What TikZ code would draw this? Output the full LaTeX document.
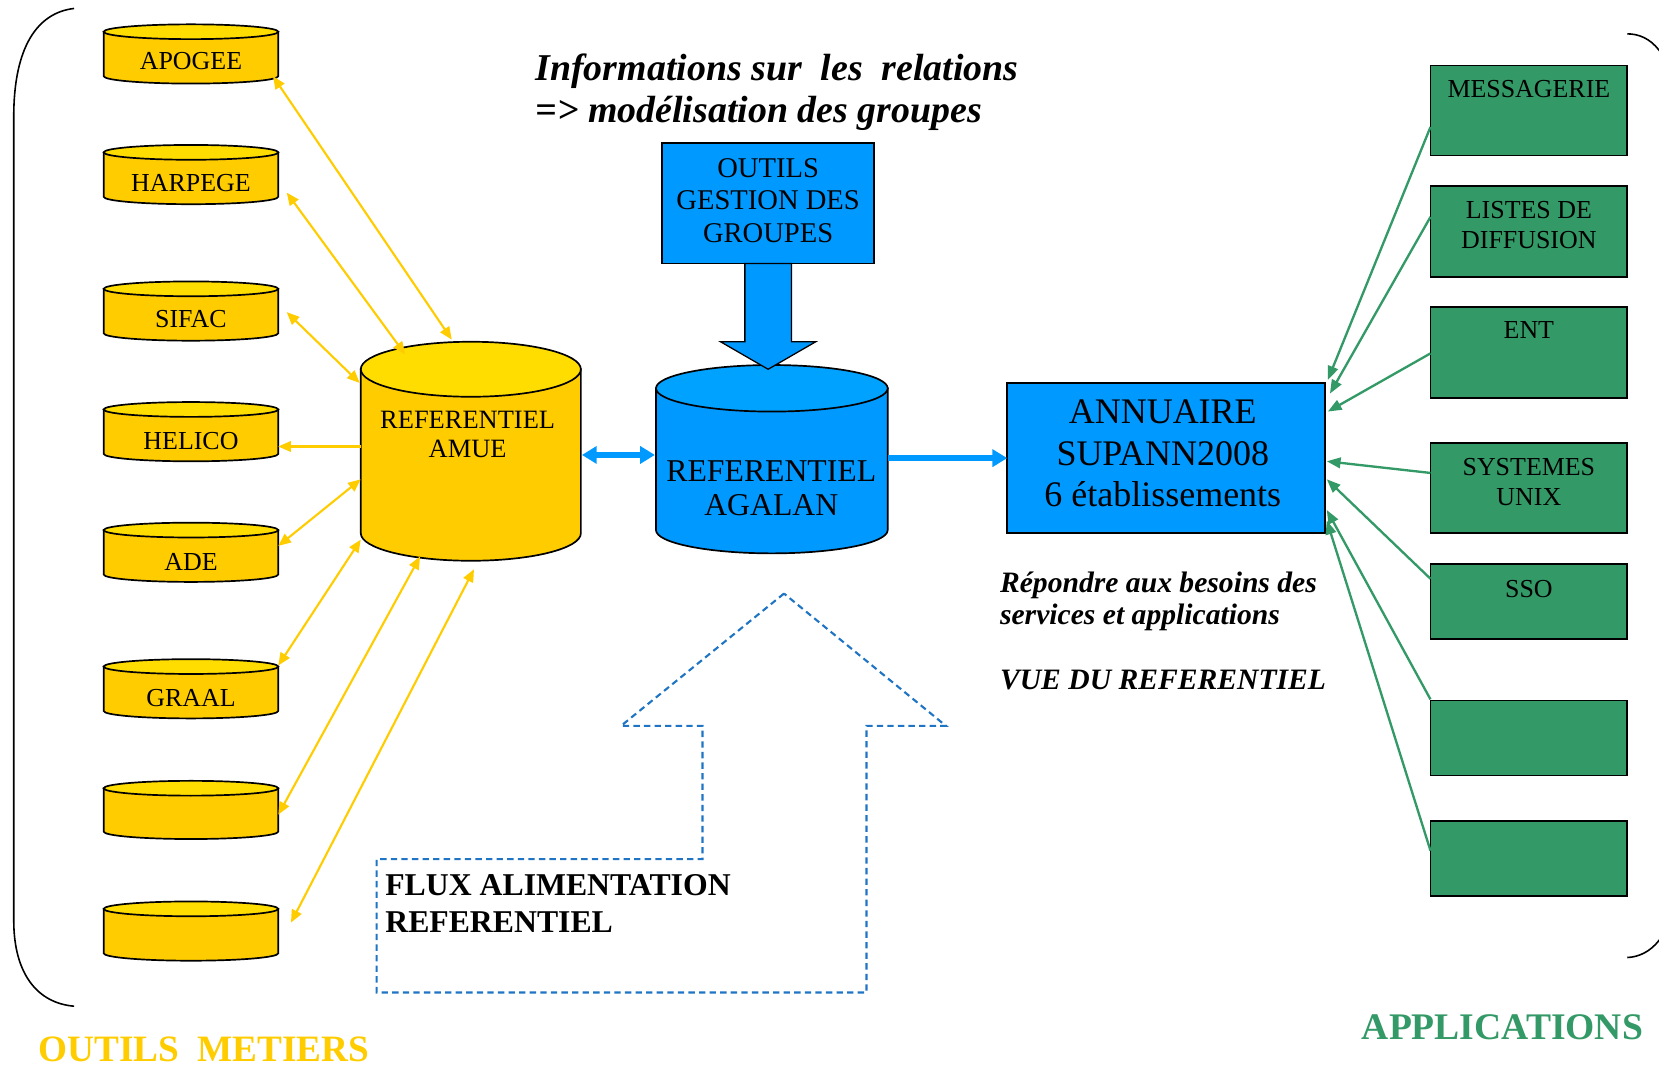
\documentclass[tikz,border=0pt]{standalone}
\usepackage{fontspec}
\setmainfont{Liberation Serif}
\usetikzlibrary{arrows.meta,calc}
\definecolor{ybody}{HTML}{FFCC00}
\definecolor{ytop}{HTML}{FFDD00}
\definecolor{bbody}{HTML}{0099FF}
\definecolor{btop}{HTML}{00A2FF}
\definecolor{cGreen}{HTML}{339966}
\definecolor{dblue}{HTML}{1F74C4}
\newcommand{\mycyl}[7]{%
  \filldraw[cylline, fill=#6] (#1-#4,#2+#5) -- (#1-#4,#3-#5) arc[start angle=180,end angle=360,x radius=#4pt,y radius=#5pt] -- (#1+#4,#2+#5) -- cycle;
  \filldraw[cylline, fill=#7] (#1,#2+#5) ellipse[x radius=#4pt,y radius=#5pt];
}
\tikzset{
  cylline/.style={line width=1.6pt, draw=black},
  ghost/.style={draw=none, inner sep=0pt, outer sep=0pt},
  lbl/.style={inner sep=0pt, font=\fontsize{24.5}{28}\selectfont, align=center},
  gboxst/.style={draw=black, line width=1.6pt, fill=cGreen, minimum width=186pt, inner sep=0pt, outer sep=0pt},
  yarr/.style={draw=ybody, line width=2pt, >={Triangle[length=12pt,width=10pt]}, <->},
  garr/.style={draw=cGreen, line width=2.2pt, >={Triangle[length=13pt,width=10pt]}, ->},
  barr/.style={draw=bbody, line width=5pt, >={Triangle[length=14pt,width=16pt]}},
  ttl/.style={inner sep=0pt, font=\fontsize{35.8}{39}\selectfont\bfseries\itshape},
  rep/.style={inner sep=0pt, font=\fontsize{28}{30}\selectfont\bfseries\itshape},
  fluxst/.style={inner sep=0pt, font=\fontsize{30}{35}\selectfont\bfseries},
}
\begin{document}
\begin{tikzpicture}[x=1pt,y=-1pt]
\useasboundingbox (0,0) rectangle (1568,1009);

% brackets
\draw[line width=1.5pt] (70,8) .. controls (35,12) and (13,45) .. (13,110) -- (13,870) .. controls (13,920) and (35,948) .. (70,951);
\draw[line width=1.5pt] (1538,32) .. controls (1560,32) and (1580,50) .. (1585,100) -- (1585,840) .. controls (1580,885) and (1560,904) .. (1538,905);

% small cylinders
\mycyl{180.5}{23}{79}{82.5}{7}{ybody}{ytop}
\mycyl{180.5}{137}{193}{82.5}{7}{ybody}{ytop}
\mycyl{180.5}{266}{322}{82.5}{7}{ybody}{ytop}
\mycyl{180.5}{380}{436}{82.5}{7}{ybody}{ytop}
\mycyl{180.5}{494}{550}{82.5}{7}{ybody}{ytop}
\mycyl{180.5}{623}{679}{82.5}{7}{ybody}{ytop}
\mycyl{180.5}{738}{793}{82.5}{7}{ybody}{ytop}
\mycyl{180.5}{852}{908}{82.5}{7}{ybody}{ytop}
\node[ghost, minimum width=165pt, minimum height=56pt] (cyl1) at (180.5,51) {};
\node[ghost, minimum width=165pt, minimum height=56pt] (cyl2) at (180.5,165) {};
\node[ghost, minimum width=165pt, minimum height=56pt] (cyl3) at (180.5,294) {};
\node[ghost, minimum width=165pt, minimum height=56pt] (cyl4) at (180.5,408) {};
\node[ghost, minimum width=165pt, minimum height=56pt] (cyl5) at (180.5,522) {};
\node[ghost, minimum width=165pt, minimum height=56pt] (cyl6) at (180.5,651) {};
\node[ghost, minimum width=165pt, minimum height=55pt] (cyl7) at (180.5,765.5) {};
\node[ghost, minimum width=165pt, minimum height=56pt] (cyl8) at (180.5,880) {};
\node[lbl] (t1) at (180.5,58) {APOGEE};
\node[lbl] (t2) at (180.5,173) {HARPEGE};
\node[lbl] (t3) at (180.5,302) {SIFAC};
\node[lbl] (t4) at (180.5,417) {HELICO};
\node[lbl] (t5) at (180.5,531) {ADE};
\node[lbl] (t6) at (180.5,660) {GRAAL};

% AMUE cylinder
\mycyl{445}{323}{530}{104}{26}{ybody}{ytop}
\node[ghost, minimum width=208pt, minimum height=207pt] (amue) at (445,426.5) {};
\node[lbl, font=\fontsize{25}{27}\selectfont] (amueT) at (442,410.5) {REFERENTIEL\\AMUE};

% AGALAN cylinder
\mycyl{729.5}{345}{523}{109.5}{22}{bbody}{btop}
\node[ghost, minimum width=219pt, minimum height=178pt] (agalan) at (729.5,434) {};
\node[lbl, font=\fontsize{30}{33}\selectfont] (agalanT) at (729,461.5) {REFERENTIEL\\AGALAN};

% OUTILS box
\node[draw=black, line width=1.6pt, fill=bbody, minimum width=200pt, minimum height=114pt, inner sep=0pt, outer sep=0pt] (outils) at (726,192) {};
\node[lbl, font=\fontsize{27}{30.5}\selectfont] (outilsT) at (726,189.5) {OUTILS\\GESTION DES\\GROUPES};
\filldraw[fill=bbody, draw=black, line width=1.2pt]
  ($(outils.south)+(-22,0)$) -- ($(outils.south)+(-22,74)$) -- ($(outils.south)+(-45,74)$)
  -- ($(outils.south)+(0,100)$) -- ($(outils.south)+(45,74)$) -- ($(outils.south)+(22,74)$)
  -- ($(outils.south)+(22,0)$) -- cycle;

% ANNUAIRE box
\node[draw=black, line width=1.6pt, fill=bbody, minimum width=300pt, minimum height=142pt, inner sep=0pt, outer sep=0pt] (annuaire) at (1102,433) {};
\node[lbl, font=\fontsize{34}{39.5}\selectfont] (annuaireT) at (1099,428.5) {ANNUAIRE\\SUPANN2008\\6 établissements};

% green boxes
\node[gboxst, minimum height=85pt] (mess) at (1445,104.5) {};
\node[gboxst, minimum height=86pt] (listes) at (1445,219) {};
\node[gboxst, minimum height=86pt] (ent) at (1445,333) {};
\node[gboxst, minimum height=85pt] (sys) at (1445,461.5) {};
\node[gboxst, minimum height=71pt] (sso) at (1445,568.5) {};
\node[gboxst, minimum height=71pt] (gb1) at (1445,697.5) {};
\node[gboxst, minimum height=71pt] (gb2) at (1445,811.5) {};
\node[lbl, anchor=north] (messT) at ($(mess.north)+(0,14)$) {MESSAGERIE};
\node[lbl, anchor=north] (listesT) at ($(listes.north)+(0,14)$) {LISTES DE\\DIFFUSION};
\node[lbl, anchor=north] (entT) at ($(ent.north)+(0,14)$) {ENT};
\node[lbl, anchor=north] (sysT) at ($(sys.north)+(0,14)$) {SYSTEMES\\UNIX};
\node[lbl, anchor=north] (ssoT) at ($(sso.north)+(0,15)$) {SSO};

% yellow arrows
\draw[yarr] ($(cyl1.east)+(-5,21)$) -- ($(amue.center)+(-18,-105.5)$);
\draw[yarr] ($(cyl2.east)+(8,17)$) -- ($(amue.center)+(-62,-91.5)$);
\draw[yarr] ($(cyl3.east)+(8,1)$) -- ($(amue.center)+(-105,-64.5)$);
\draw[yarr, ->] ($(amue.center)+(-104,-4.5)$) -- ($(cyl4.east)+(0,14)$);
\draw[yarr] ($(cyl5.east)+(0,-6)$) -- ($(amue.center)+(-104,26.5)$);
\draw[yarr] ($(cyl6.east)+(0,-22)$) -- ($(amue.center)+(-104,83.5)$);
\draw[yarr] ($(cyl7.east)+(0,4.5)$) -- ($(amue.center)+(-48,99.5)$);
\draw[yarr] ($(cyl8.east)+(12,-8)$) -- ($(amue.center)+(3,111.5)$);

% blue arrows
\draw[barr, <->] ($(amue.east)+(1,3.5)$) -- ($(agalan.west)+(-1,-4)$);
\draw[barr, ->] ($(agalan.east)+(0,-1)$) -- (annuaire.west);

% green arrows
\draw[garr] ($(mess.west)+(0,15.5)$) -- ($(annuaire.east)+(3,-74)$);
\draw[garr] ($(listes.west)+(0,-14)$) -- ($(annuaire.east)+(5,-61)$);
\draw[garr] ($(ent.west)+(0,1)$) -- ($(annuaire.east)+(3,-44)$);
\draw[garr] ($(sys.west)+(0,-14.5)$) -- ($(annuaire.east)+(2,3)$);
\draw[garr] ($(sso.west)+(0,-21.5)$) -- ($(annuaire.east)+(2,20)$);
\draw[garr] ($(gb1.west)+(0,-36.5)$) -- ($(annuaire.east)+(2,49)$);
\draw[garr] ($(gb2.west)+(0,-7.5)$) -- ($(annuaire.east)+(2,59)$);

% dashed big arrow
\draw[dblue, line width=2pt, dash pattern=on 6pt off 4pt] (741,561) -- (587,686) -- (664,686) -- (664,812) -- (356,812) -- (356,938) -- (819,938) -- (819,686) -- (894,686) -- cycle;
\node[fluxst, anchor=base west] (flux1) at (364,846) {FLUX ALIMENTATION};
\node[fluxst, anchor=base west] (flux2) at (364,881) {REFERENTIEL};

% texts
\node[ttl, anchor=base west] (title1) at (506,76) {Informations sur\ \ les\ \ relations};
\node[ttl, anchor=base west] (title2) at (506,115.5) {=> modélisation des groupes};
\node[rep, anchor=base west] (rep1) at (945,560) {Répondre aux besoins des};
\node[rep, anchor=base west] (rep2) at (945,590) {services et applications};
\node[rep, anchor=base west] (vue) at (945,652) {VUE DU REFERENTIEL};
\node[inner sep=0pt, anchor=base west, font=\fontsize{35.2}{38}\selectfont\bfseries, text=ybody] (metiers) at (36,1003) {OUTILS\ \ METIERS};
\node[inner sep=0pt, anchor=base west, font=\fontsize{35.5}{38}\selectfont\bfseries, text=cGreen] (apps) at (1287,982) {APPLICATIONS};
\end{tikzpicture}
\end{document}
